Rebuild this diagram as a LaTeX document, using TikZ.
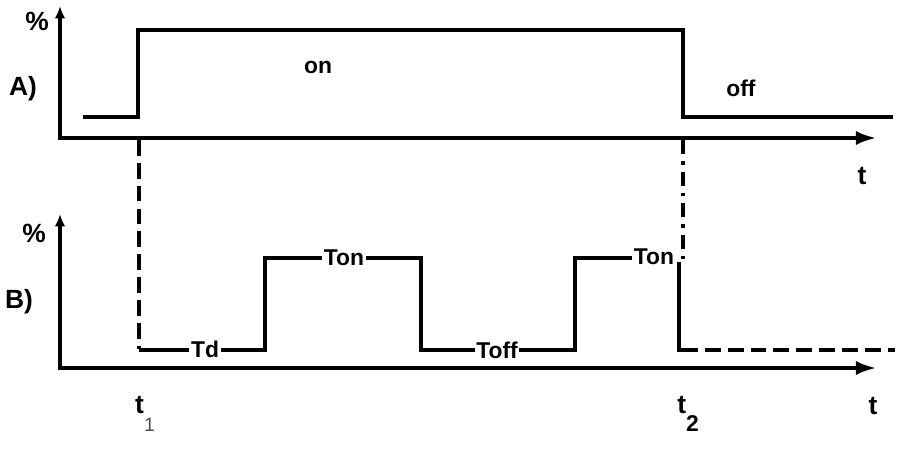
\documentclass[tikz,border=0pt]{standalone}
\usepackage{fontspec}
\setmainfont{Liberation Sans}
\usetikzlibrary{arrows.meta, calc, positioning}

\tikzset{
  axis/.style={line width=2.6pt, -{Latex[length=12pt, width=8pt]}},
  yaxis/.style={line width=2.6pt, -{Latex[length=7pt, width=6pt]}},
  signal/.style={line width=2pt},
  lbl/.style={font=\bfseries\fontsize{13}{15}\selectfont, inner sep=1pt},
  tag/.style={font=\bfseries\fontsize{15}{17}\selectfont, inner sep=0pt},
  gaplbl/.style={lbl, fill=white}
}

\begin{document}
\begin{tikzpicture}[x=0.02cm, y=-0.02cm]

\useasboundingbox (0,0) rectangle (905,450);

% Panel A
\coordinate (oA) at (60,138);
\draw[yaxis] ($(oA)+(0,2)$) -- (60,6);
\draw[axis] (oA) -- (877,138);
\node[tag] (pctA) at (37,21) {\%};
\node[tag] (labA) at (23,89) {A)};
\node[tag] (tA) at (862,176) {t};

\draw[signal] (83,117) -- (138,117) -- (138,30) -- (683,30) -- (683,117) -- (893,117);
\node[lbl] (on) at (318,67) {on};
\node[lbl] (off) at (741,88) {off};

% Panel B
\coordinate (oB) at (60,368);
\draw[yaxis] ($(oB)+(0,2)$) -- (60,214);
\draw[axis] (oB) -- (877,368);
\node[tag] (pctB) at (34,233) {\%};
\node[tag] (labB) at (19,302) {B)};
\node[tag] (tB) at (873,406) {t};

% Switching moments
\draw[signal, dash pattern=on 9pt off 4pt] (139,140) -- (139,349);
\draw[signal, dash pattern=on 8pt off 4pt on 2pt off 4pt] (683,140) -- (683,262);

\draw[signal] (139,350) -- (265,350) -- (265,258) -- (421,258) -- (421,350)
  -- (575,350) -- (575,258) -- (670,258);
\draw[signal] (679,262) -- (679,350) -- (682,350);
\draw[signal, dash pattern=on 9pt off 4pt] (682,350) -- (895,350);
\node[gaplbl] (td) at (205,349) {Td};
\node[gaplbl] (ton1) at (344,258) {Ton};
\node[gaplbl] (toff) at (497,350) {Toff};
\node[gaplbl] (ton2) at (654,257) {Ton};

\node[tag] (t1) at (145,414) {t\raisebox{-1.3ex}{\fontsize{11}{13}\selectfont\mdseries\color{black!70}1}};
\node[tag] (t2) at (688,414) {t\raisebox{-1.3ex}{\fontsize{13}{15}\selectfont 2}};

\end{tikzpicture}
\end{document}
